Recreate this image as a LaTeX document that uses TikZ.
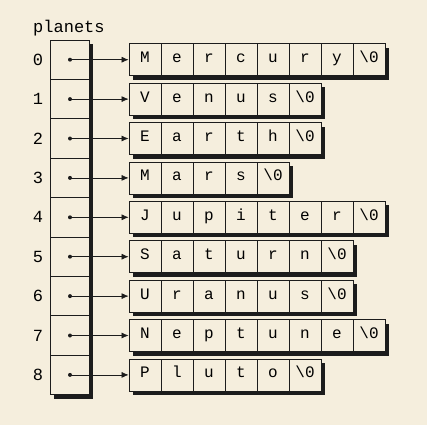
\documentclass[tikz,border=0pt]{standalone}
\usepackage{fontspec}
\setmonofont{Liberation Mono}
\usetikzlibrary{arrows.meta}
\definecolor{papercream}{RGB}{245, 238, 221}
\definecolor{inkblack}{RGB}{28, 28, 28}

\tikzset{
  cell/.style={draw=inkblack, fill=papercream, line width=0.8pt, minimum width=32pt, minimum height=32pt, inner sep=0pt, text height=9pt, text depth=3pt, font=\ttfamily\fontsize{16}{16}\selectfont},
  slot/.style={draw=inkblack, fill=papercream, line width=0.8pt, minimum width=39pt, minimum height=39.4pt, inner sep=0pt},
  ptrdot/.style={circle, fill=inkblack, inner sep=0pt, minimum size=4pt},
  ptr/.style={-{Latex[length=7pt,width=6pt]}, line width=0.7pt, inkblack},
}

\begin{document}
\begin{tikzpicture}[x=1pt, y=-1pt]
\fill[papercream] (0,0) rectangle (427,425);
\useasboundingbox (0,0) rectangle (427,425);
\node[anchor=base west, inner sep=0pt, font=\ttfamily\fontsize{17}{17}\selectfont] (title) at (33,33) {planets};
% shadow of the pointer array
\fill[inkblack] (54,44) rectangle (93,399);
\foreach \n/\len/\word in {0/8/{M,e,r,c,u,r,y,\textbackslash0}, 1/6/{V,e,n,u,s,\textbackslash0}, 2/6/{E,a,r,t,h,\textbackslash0}, 3/5/{M,a,r,s,\textbackslash0}, 4/8/{J,u,p,i,t,e,r,\textbackslash0}, 5/7/{S,a,t,u,r,n,\textbackslash0}, 6/7/{U,r,a,n,u,s,\textbackslash0}, 7/8/{N,e,p,t,u,n,e,\textbackslash0}, 8/6/{P,l,u,t,o,\textbackslash0}} {
  \pgfmathsetmacro{\ymid}{59.7+39.4*\n}
  \pgfmathsetmacro{\xend}{133+32*\len}
  \node[slot] (slot\n) at (69.5,\ymid) {};
  \node[font=\ttfamily\fontsize{17}{17}\selectfont] (idx\n) at (38,\ymid) {\n};
  \node[ptrdot] (dot\n) at (70,\ymid) {};
  % shadow of the string
  \fill[inkblack] (133,\ymid-12) rectangle (\xend,\ymid+20);
  \foreach \c [count=\k] in \word {
    \node[cell] (str\n-\k) at (113+32*\k,\ymid) {\c};
  }
  \draw[ptr] (dot\n.center) -- (str\n-1.west);
}
\end{tikzpicture}
\end{document}
